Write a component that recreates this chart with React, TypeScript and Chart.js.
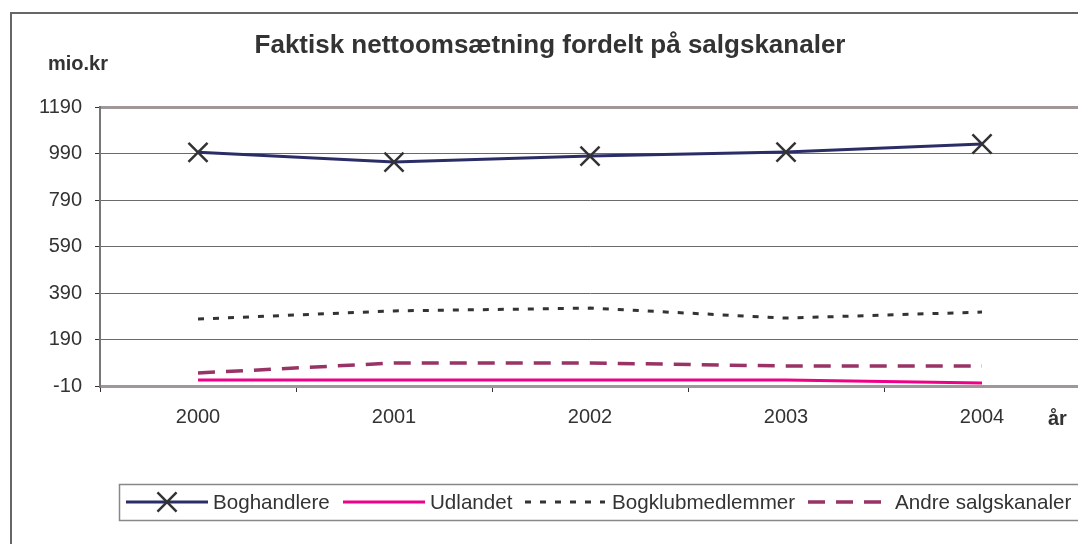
import React, { useEffect, useRef } from "react";
import { Chart, registerables } from "chart.js";

Chart.register(...registerables);

const years = ["2000", "2001", "2002", "2003", "2004"];
const boghandlere = [995, 953, 979, 996, 1031];
const udlandet = [16, 16, 16, 16, 3];
const bogklub = [278, 313, 325, 282, 308];
const andre = [46, 89, 89, 76, 76];
const yTicks = [-10, 190, 390, 590, 790, 990, 1190];
const seriesNames = ["Boghandlere", "Udlandet", "Bogklubmedlemmer", "Andre salgskanaler"];
const titleText = "Faktisk nettoomsætning fordelt på salgskanaler";
const yUnit = "mio.kr";
const xUnit = "år";

const FONT = "'Liberation Sans', Arial, sans-serif";
const TEXT = "#333333";

const decor = {
  id: "decor",
  afterDraw(chart: any) {
    const ctx = chart.ctx as CanvasRenderingContext2D;
    ctx.save();
    // outer chart border
    ctx.strokeStyle = "#666";
    ctx.lineWidth = 2;
    ctx.beginPath();
    ctx.moveTo(11, 700);
    ctx.lineTo(11, 13);
    ctx.lineTo(1200, 13);
    ctx.stroke();

    // title
    ctx.fillStyle = TEXT;
    ctx.textBaseline = "middle";
    ctx.textAlign = "center";
    ctx.font = `bold 26px ${FONT}`;
    ctx.fillText(titleText, 550, 46);

    ctx.textAlign = "left";
    ctx.font = `bold 20px ${FONT}`;
    ctx.fillText(yUnit, 48, 64);
    ctx.fillText(xUnit, 1048, 419);

    // legend
    ctx.strokeStyle = "#888";
    ctx.lineWidth = 1.5;
    ctx.strokeRect(119.5, 484.5, 1200, 36);
    const items = [
      { x0: 126, x1: 208, tx: 213 },
      { x0: 343, x1: 425, tx: 430 },
      { x0: 525, x1: 605, tx: 612 },
      { x0: 808, x1: 883, tx: 895 },
    ];
    const cy = 502;
    chart.data.datasets.forEach((ds: any, i: number) => {
      const it = items[i];
      ctx.save();
      ctx.strokeStyle = ds.borderColor;
      ctx.lineWidth = ds.borderWidth;
      ctx.setLineDash(ds.borderDash || []);
      ctx.beginPath();
      ctx.moveTo(it.x0, cy);
      ctx.lineTo(it.x1, cy);
      ctx.stroke();
      ctx.restore();
      if (ds.pointRadius > 0) {
        const cx = (it.x0 + it.x1) / 2;
        const h = ds.pointRadius * Math.SQRT1_2;
        ctx.save();
        ctx.strokeStyle = ds.pointBorderColor;
        ctx.lineWidth = ds.pointBorderWidth;
        ctx.beginPath();
        ctx.moveTo(cx - h, cy - h);
        ctx.lineTo(cx + h, cy + h);
        ctx.moveTo(cx - h, cy + h);
        ctx.lineTo(cx + h, cy - h);
        ctx.stroke();
        ctx.restore();
      }
      ctx.fillStyle = TEXT;
      ctx.font = `20.6px ${FONT}`;
      ctx.textAlign = "left";
      ctx.textBaseline = "middle";
      ctx.fillText(seriesNames[i], it.tx, cy + 1);
    });
    ctx.restore();
  },
};

export default function App() {
  const ref = useRef<HTMLCanvasElement>(null);
  useEffect(() => {
    if (!ref.current) return;
    const chart = new Chart(ref.current, {
      type: "line",
      data: {
        labels: years,
        datasets: [
          {
            label: seriesNames[0],
            data: boghandlere,
            borderColor: "#2b2d66",
            borderWidth: 3,
            pointStyle: "crossRot",
            pointRadius: 13.5,
            pointBorderColor: "#333333",
            pointBorderWidth: 2.5,
            pointHoverRadius: 13.5,
            tension: 0,
          },
          {
            label: seriesNames[1],
            data: udlandet,
            borderColor: "#ee0088",
            borderWidth: 3,
            pointRadius: 0,
            tension: 0,
          },
          {
            label: seriesNames[2],
            data: bogklub,
            borderColor: "#333333",
            borderWidth: 3,
            borderDash: [6, 9],
            pointRadius: 0,
            tension: 0,
          },
          {
            label: seriesNames[3],
            data: andre,
            borderColor: "#993366",
            borderWidth: 3.5,
            borderDash: [17, 11],
            pointRadius: 0,
            tension: 0,
          },
        ] as any,
      },
      options: {
        animation: false,
        responsive: false,
        maintainAspectRatio: false,
        events: [],
        layout: { padding: { top: 107, right: 20, bottom: 0, left: 0 } },
        plugins: {
          legend: { display: false },
          title: { display: false },
          tooltip: { enabled: false },
        },
        scales: {
          x: {
            type: "category",
            offset: true,
            afterFit(scale: any) {
              scale.height = 158;
            },
            grid: {
              offset: true,
              drawOnChartArea: false,
              drawTicks: true,
              tickLength: 6,
              tickColor: "#333",
              tickWidth: 1,
            },
            border: { display: false },
            ticks: {
              color: TEXT,
              font: { family: FONT, size: 20 },
              padding: 13,
              maxRotation: 0,
            },
          },
          y: {
            type: "linear",
            min: -10,
            max: 1190,
            afterFit(scale: any) {
              scale.width = 100;
            },
            afterBuildTicks(scale: any) {
              scale.ticks = yTicks.map((v) => ({ value: v }));
            },
            grid: {
              color: (c: any) =>
                c.tick && (c.tick.value === -10 || c.tick.value === 1190) ? "#a09898" : "#6a6a6a",
              lineWidth: (c: any) =>
                c.tick && (c.tick.value === -10 || c.tick.value === 1190) ? 3 : 1,
              drawTicks: true,
              tickLength: 5,
              tickColor: "#333",
              tickWidth: 1,
            },
            border: { display: true, color: "#777", width: 2 },
            ticks: {
              color: TEXT,
              font: { family: FONT, size: 20 },
              padding: 13,
              callback: (v: any) => String(v),
            },
          },
        },
      } as any,
      plugins: [decor],
    });
    return () => chart.destroy();
  }, []);
  return (
    <div
      style={{
        position: "fixed",
        left: 0,
        top: 0,
        width: 1078,
        height: 544,
        overflow: "hidden",
        background: "#fff",
      }}
    >
      <canvas
        ref={ref}
        width={1100}
        height={544}
        style={{ position: "absolute", left: 0, top: 0, width: 1100, height: 544 }}
      />
    </div>
  );
}
